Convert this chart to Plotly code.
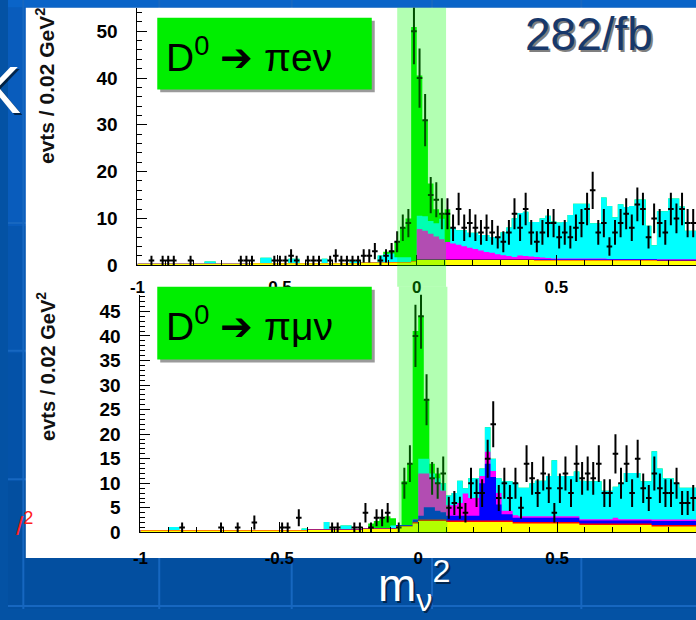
import numpy as np
import plotly.graph_objects as go

W, H = 696, 620

# ---------------------------------------------------------------- binning
BIN = 0.02
EDGES = np.round(np.arange(-1.0, 1.0 + BIN / 2, BIN), 2)      # 101 bin edges
CENTERS = np.round(EDGES[:-1] + BIN / 2, 2)                   # 100 bin centres

# ---------------------------------------------------------------- D0 -> pi e nu
TOP_COUNTS = [
    0, 0, 1, 0, 1, 1, 1, 0, 0, 1,
    0, 0, 0, 0, 0, 0, 0, 0, 1, 1,
    1, 0, 0, 0, 1, 1, 1, 2, 1, 0,
    1, 1, 1, 0, 1, 2, 1, 1, 1, 1,
    2, 2, 3, 1, 2, 3, 5, 8, 9, 50,
    40, 31, 15, 14, 11, 11, 8, 12, 8, 9,
    8, 7, 8, 7, 6, 5, 7, 11, 8, 12,
    7, 5, 7, 9, 9, 6, 7, 6, 8, 9,
    12, 16, 7, 9, 4, 7, 9, 11, 8, 13,
    12, 6, 10, 9, 7, 12, 10, 12, 9, 9,
]
TOP_YELLOW = [
    .3, .3, .3, .3, .3, .3, .3, .3, .3, .3,
    .3, .3, .3, .3, .3, .3, .3, .3, .3, .3,
    .4, .4, .4, .4, .4, .4, .4, .4, .4, .4,
    .4, .4, .4, .4, .4, .4, .4, .4, .4, .4,
    .6, .6, .6, .6, .6, .6, .6, .6, .6, .8,
    1.1, 1.1, 1.1, 1.1, 1.1, 1.1, 1.1, 1.1, 1.1, 1.1,
    1.1, 1.1, 1.1, 1.1, 1.1, 1.1, 1.1, 1.1, 1.1, 1.1,
    1.1, 1.0, 1.0, 1.0, 1.0, 1.0, 1.0, 1.0, 1.0, 1.0,
    1.0, 1.0, 1.0, 1.0, 1.0, 1.0, 1.0, 1.0, 1.0, 1.0,
    1.0, 1.0, 1.0, .9, .9, .9, .9, .9, .9, .9,
]
TOP_RED = [0] * 45 + [.1] * 55
TOP_BLUE = [0] * 50 + [.15] * 50
TOP_MAGENTA = [0] * 50 + [
    6.4, 6.0, 5.4, 4.8, 4.2, 3.6, 3.3, 3.0, 2.7, 2.4,
    2.1, 1.8, 1.5, 1.3, 1.0, .8, .6, .4, .7, .6,
    .5, .5, .4, .3, .2, .2, .2, .2, .2, .2,
    .2, .2, .2, .2, .1, .1, .1, .1, .1, .1,
    .1, .1, .1, .1, .1, .1, .1, .1, .1, .1,
]
TOP_CYAN = [
    0, 0, 0, 0, 0, 0, 0, 0, 0, 0,
    0, 0, .5, .5, 0, 0, 0, 0, 0, 0,
    0, 0, 1.2, 1.2, 0, 0, 0, 1.0, 1.0, 0,
    0, 0, 0, 1.0, 0, 0, 0, 0, .6, .6,
    0, 0, 0, 1.5, 1.8, 1.8, 1.0, 1.0, 1.0, 0,
    2.8, 3.1, 2.7, 2.8, 4.4, 0, 3.3, 3.1, 3.4, 3.2,
    3.5, 3.3, 3.6, 3.4, 3.6, 4.9, 6.1, 8.3, 9.1, 9.5,
    7.4, 7.5, 8.4, 9.0, 7.9, 7.7, 7.8, 9.3, 11.7, 11.7,
    11.7, 7.5, 7.5, 13.0, 11.3, 8.9, 11.7, 11.1, 11.3, 12.7,
    12.7, 7.1, 2.9, 10.3, 10.3, 13.0, 13.0, 11.3, 6.1, 6.1,
]
TOP_SIGNAL = [0] * 40 + [
    0, 0, 0, 0, .5, .5, 3.3, 6.3, 8.3, 50.0,
    30, 20.5, 8, 3, 1, 7, 0, 0, 0, 0,
] + [0] * 40

# ---------------------------------------------------------------- D0 -> pi mu nu
BOT_COUNTS = [
    0, 0, 0, 0, 0, 0, 0, 1, 0, 0,
    0, 0, 0, 0, 1, 0, 0, 1, 0, 0,
    2, 0, 0, 0, 0, 1, 1, 0, 3, 0,
    0, 0, 0, 0, 1, 1, 0, 0, 1, 1,
    4, 1, 3, 3, 4, 0, 1, 10, 14, 40,
    44, 27, 11, 10, 12, 5, 6, 5, 4, 10,
    8, 8, 15, 22, 7, 10, 7, 10, 5, 14,
    11, 8, 12, 9, 4, 9, 12, 8, 14, 11,
    12, 11, 14, 8, 8, 16, 10, 14, 8, 15,
    9, 7, 12, 9, 8, 8, 10, 6, 6, 7,
]
BOT_YELLOW = (
    [.4] * 30 + [.5] * 10 + [.7] * 6 + [1.2] * 3 + [1.8]
    + [2.3] * 5 + [2.1] * 12 + [1.8] * 12 + [1.5] * 13 + [1.2] * 8
)
BOT_RED = [.1] * 49 + [.3] * 51
BOT_BLUE = [0] * 46 + [
    .2, .2, .2, .5,
    .8, 2.5, 2.5, 1.8, 1.5, 1.0, 1.0, 1.0, 1.0, 1.0,
    1.0, 7.6, 11.6, 8.9, 3.3, 1.3, 1.3, .9, .9, .9,
    .9, .9, .9, .9, .9, .9, .9, .9, .9, .6,
    .6, .6, .6, .6, .6, .6, .6, .6, .6, .6,
    .6, .6, .8, .8, .8, .8, .8, .8, .8, .8,
]
BOT_MAGENTA = [0] * 50 + [
    8.6, 6.9, 5.9, 5.6, 4.4, 2.1, 2.1, 2.6, 4.5, 3.6,
    3.6, 1.5, 2.4, 1.2, 2.3, .7, .7, .5, .3, .3,
    .3, .3, .3, .3, .3, .3, .3, .3, .3, .3,
    .3, .3, .3, .3, .3, .6, .3, .3, .3, .3,
    .3, .3, .3, .3, .3, .3, .3, .3, .3, .3,
]
BOT_CYAN = [
    0, 0, 0, 0, 0, .6, .6, 0, 0, 0,
    0, 0, 0, 0, 0, 0, 0, 0, 0, 0,
    0, 0, 0, 0, 0, 0, 0, 0, 0, .3,
    0, 0, 0, 1.5, 0, 0, .8, .8, 0, 0,
    0, 0, 0, 0, 0, .6, 0, 0, 0, 0,
    3, 3, 1, 1, 1.5, 2, 2.5, 4.5, 1.1, 4,
    4, 1.5, 5, 2.5, 3, 6, 6, 6.5, 5.8, 5.8,
    6.7, 7.2, 7.2, 8.2, 11.4, 8.2, 8.2, 8.2, 9.1, 7.8,
    7.7, 7.7, 7.7, 5.8, 5.8, 6.3, 7.3, 9.4, 9.4, 9.4,
    7.7, 7.7, 13.9, 10.4, 8.4, 8.4, 7.4, 6.5, 6.5, 6.5,
]
BOT_SIGNAL = [0] * 40 + [
    0, 1, 1.5, 2, 2.5, 1.5, 0, 8.9, 12.5, 38.4,
    29, 12, 2, 1, 0, 0, 0, 0, 0, 0,
] + [0] * 40

# stacking order, bottom to top
STACK_COLORS = ["#FFFF00", "#FF0000", "#0000FF", "#FF00FF", "#00FFFF", "#00EE00"]
SIGNAL_WINDOW = (-0.07, 0.105)

X_TICKS = [-1, -0.5, 0, 0.5, 1]
X_TICK_TEXT = ["-1", "-0.5", "0", "0.5", "1"]
TOP_Y_TICKS = [0, 10, 20, 30, 40, 50]
BOT_Y_TICKS = [0, 5, 10, 15, 20, 25, 30, 35, 40, 45]


def px(x):
    return x / W


def py(y):
    return 1 - y / H


fig = go.Figure()


def add_panel(xa, ya, comps, counts):
    cum = np.cumsum(np.array(comps, dtype=float), axis=0)
    # draw cumulative layers from the top of the stack downwards
    for k in reversed(range(len(comps))):
        yv = list(cum[k]) + [cum[k][-1]]
        fig.add_trace(go.Scatter(
            x=EDGES, y=yv, xaxis=xa, yaxis=ya, mode="lines",
            line=dict(width=0, shape="hv"), fill="tozeroy",
            fillcolor=STACK_COLORS[k], hoverinfo="skip", showlegend=False))
    c = np.array(counts, dtype=float)
    m = c > 0
    fig.add_trace(go.Scatter(
        x=CENTERS[m], y=c[m], xaxis=xa, yaxis=ya, mode="markers",
        marker=dict(size=2, color="black"),
        error_y=dict(type="data", array=np.sqrt(c[m]), thickness=2, width=0, color="black"),
        error_x=dict(type="constant", value=BIN / 2, thickness=2, width=0, color="black"),
        hoverinfo="skip", showlegend=False))


add_panel("x", "y",
          [TOP_YELLOW, TOP_RED, TOP_BLUE, TOP_MAGENTA, TOP_CYAN, TOP_SIGNAL], TOP_COUNTS)
add_panel("x2", "y2",
          [BOT_YELLOW, BOT_RED, BOT_BLUE, BOT_MAGENTA, BOT_CYAN, BOT_SIGNAL], BOT_COUNTS)

SANS = "Liberation Sans, Arial, sans-serif"
XFONT = dict(family=SANS, size=17, color="black", weight="bold")
YFONT = dict(family=SANS, size=19, color="black", weight="bold")
AX = dict(showline=True, linecolor="black", linewidth=1, ticks="inside", ticklen=10,
          tickwidth=1, tickcolor="black", showgrid=False, zeroline=False, fixedrange=True)

xa = dict(AX, range=[-1, 1], tickmode="array", tickvals=X_TICKS, ticktext=X_TICK_TEXT,
          tickfont=XFONT,
          minor=dict(ticks="inside", ticklen=5, tickcolor="black", tickmode="linear",
                     tick0=0, dtick=0.1))

fig.update_layout(
    width=W, height=H, margin=dict(l=0, r=0, t=0, b=0),
    paper_bgcolor="#0452A4", plot_bgcolor="rgba(0,0,0,0)", showlegend=False,
    xaxis=dict(xa, domain=[px(131), 1], anchor="y", ticklabelstandoff=6),
    xaxis2=dict(xa, domain=[px(134), 1], anchor="y2", ticklabelstandoff=10),
    yaxis=dict(AX, domain=[py(270), py(8)], range=[0, 55], anchor="x",
               tickmode="array", tickvals=TOP_Y_TICKS, ticklabelstandoff=15, tickfont=YFONT,
               minor=dict(ticks="inside", ticklen=5, tickcolor="black",
                          tickmode="linear", tick0=0, dtick=2)),
    yaxis2=dict(AX, domain=[py(542), py(300)], range=[0, 48.4], anchor="x2",
                tickmode="array", tickvals=BOT_Y_TICKS, ticklabelstandoff=15, tickfont=YFONT,
                minor=dict(ticks="inside", ticklen=5, tickcolor="black",
                           tickmode="linear", tick0=0, dtick=1)),
)

shapes = []
# slide background: lighter top strip, slightly darker towards the bottom
for y0, y1, col in [(0, 8, "#0A64C8"), (8, 230, "#095CBC"), (230, 360, "#0656B0"),
                    (360, 490, "#0452A8"), (490, 620, "#034FA0")]:
    shapes.append(dict(type="rect", xref="paper", yref="paper", x0=0, x1=1,
                       y0=py(y1), y1=py(y0), fillcolor=col, line=dict(width=0), layer="below"))
for gx in [15.5, 153, 287, 429, 580]:
    shapes.append(dict(type="line", xref="paper", yref="paper", x0=px(gx), x1=px(gx),
                       y0=0, y1=1, line=dict(color="#1767C0", width=2), layer="below"))
for gy in [227, 357, 488, 617]:
    shapes.append(dict(type="line", xref="paper", yref="paper", x0=0, x1=1,
                       y0=py(gy), y1=py(gy), line=dict(color="#1767C0", width=2), layer="below"))
# white plot panel
shapes.append(dict(type="rect", xref="paper", yref="paper", x0=px(18), x1=1,
                   y0=py(568), y1=py(8), fillcolor="white", line=dict(width=0), layer="below"))
# signal window band
shapes.append(dict(type="rect", xref="x", yref="paper", x0=SIGNAL_WINDOW[0], x1=SIGNAL_WINDOW[1],
                   y0=py(292), y1=py(8), fillcolor="rgba(0,255,0,0.3)", line=dict(width=0), layer="above"))
shapes.append(dict(type="rect", xref="x2", yref="paper", x0=SIGNAL_WINDOW[0], x1=SIGNAL_WINDOW[1],
                   y0=py(542), y1=py(292), fillcolor="rgba(0,255,0,0.3)", line=dict(width=0), layer="above"))
# channel label boxes with drop shadow
for top, bot in [(18, 91), (292, 366)]:
    shapes.append(dict(type="rect", xref="paper", yref="paper", x0=px(154), x1=px(371),
                       y0=py(bot + 3), y1=py(top + 3), fillcolor="#9A9A9A", line=dict(width=0), layer="above"))
    shapes.append(dict(type="rect", xref="paper", yref="paper", x0=px(151), x1=px(368),
                       y0=py(bot), y1=py(top), fillcolor="#00EE00", line=dict(width=0), layer="above"))
fig.update_layout(shapes=shapes)

ann = []


def text(x, y, s, size, color, xanchor="center", yanchor="middle", angle=0, weight="normal"):
    ann.append(dict(x=px(x), y=py(y), xref="paper", yref="paper", text=s, showarrow=False,
                    xanchor=xanchor, yanchor=yanchor, textangle=angle,
                    font=dict(family=SANS, size=size, color=color, weight=weight)))


text(158, 55, "D<sup>0</sup> ➔ πeν", 39, "black", xanchor="left")
text(158, 329, "D<sup>0</sup> ➔ πμν", 39, "black", xanchor="left")
text(589.5, 36.5, "282/fb", 46, "rgba(0,0,0,0.5)")
text(588, 35, "282/fb", 46, "#17386B")
text(38, 88, "evts / 0.02 GeV<sup>2</sup>", 21, "#111111", angle=-90, weight="bold")
text(38, 373, "evts / 0.02 GeV<sup>2</sup>", 20, "#111111", angle=-90, weight="bold")
text(413, 598, "m<sub>ν</sub><sup>2</sup>", 46, "rgba(0,0,0,0.5)")
text(411, 596, "m<sub>ν</sub><sup>2</sup>", 46, "white")
text(17, 94, "K", 66, "rgba(0,0,0,0.6)", xanchor="right")
text(15, 92, "K", 66, "white", xanchor="right")
text(6, 534, "/<sup>2</sup>", 26, "#FF2020", xanchor="left")
fig.update_layout(annotations=ann)

fig.write_html("out.html")
